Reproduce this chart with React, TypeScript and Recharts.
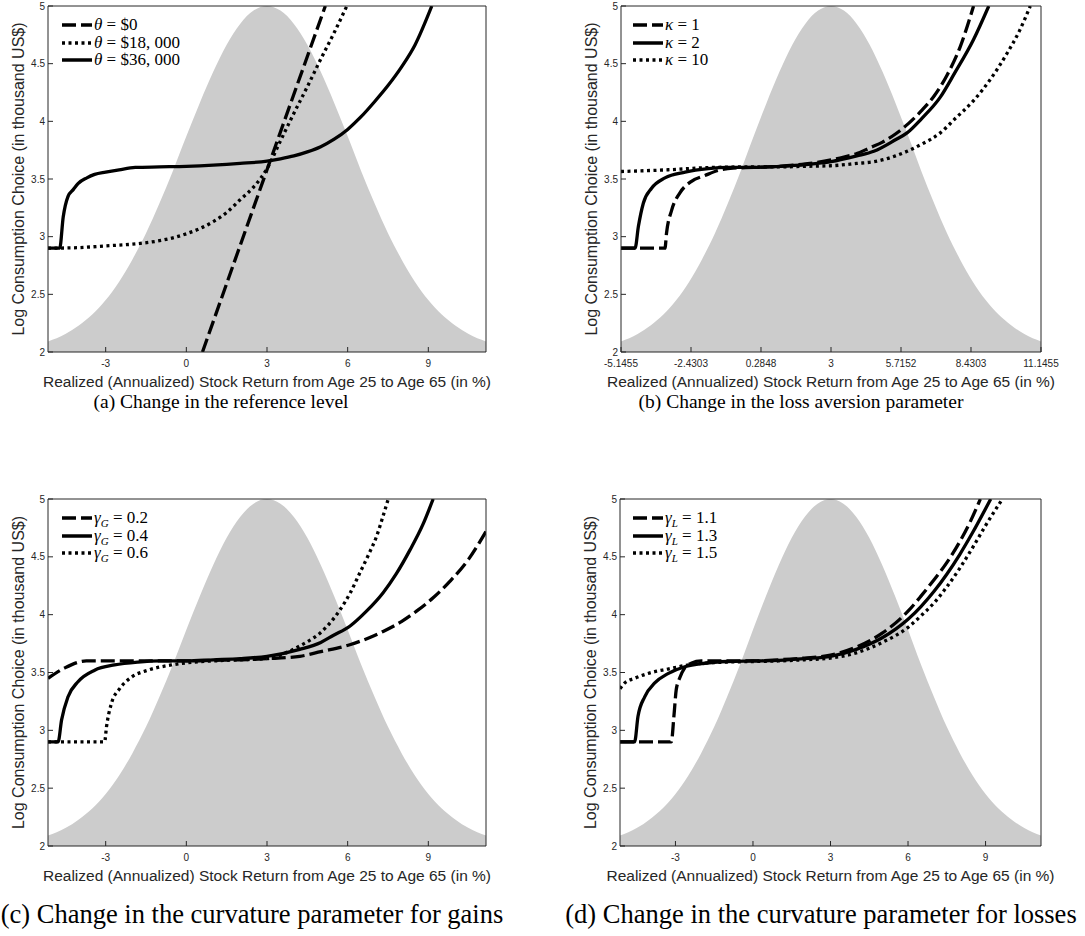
import React from 'react';
import { ComposedChart, Area, Line, XAxis, YAxis } from 'recharts';

// all four panels share the same return range (3 +/- 8.1455)
const X_MIN = -5.1455;
const X_MAX = 11.1455;

const intTicks = [-3, 0, 3, 6, 9];
const kappaTicks = [-5.1455, -2.4303, 0.2848, 3, 5.7152, 8.4303, 11.1455];
const yTicks = [2, 2.5, 3, 3.5, 4, 4.5, 5];

// grey return density, drawn on the consumption scale
const densX = [-5.1455, -4.5, -4, -3.5, -3, -2.5, -2, -1.5, -1, -0.5, 0, 0.5, 1, 1.5, 2, 2.5, 3, 3.5, 4, 4.5, 5, 5.5, 6, 6.5, 7, 7.5, 8, 8.5, 9, 9.5, 10, 10.5, 11.1455];
const densY = [2.09, 2.155, 2.23, 2.325, 2.45, 2.61, 2.805, 3.03, 3.29, 3.57, 3.87, 4.16, 4.43, 4.665, 4.845, 4.96, 5.0, 4.96, 4.845, 4.665, 4.43, 4.16, 3.87, 3.57, 3.29, 3.03, 2.805, 2.61, 2.45, 2.325, 2.23, 2.155, 2.09];

// (a) reference level
const refZeroX = [0.6, 3.0, 5.17];
const refZeroY = [2.0, 3.58, 5.0];
const ref18kX = [-5.1455, -4, -3, -2, -1, -0.5, 0, 0.5, 1, 1.5, 2, 2.5, 3, 3.5, 4, 4.5, 5, 5.5, 5.97];
const ref18kY = [2.9, 2.905, 2.92, 2.935, 2.965, 2.99, 3.025, 3.07, 3.13, 3.21, 3.32, 3.43, 3.59, 3.83, 4.07, 4.3, 4.54, 4.77, 5.0];
const ref36kX = [-5.1455, -4.71, -4.58, -4.4, -4.2, -4.03, -3.7, -3.41, -3.0, -2.5, -1.9, -1, 0, 1, 2, 3, 3.5, 4, 4.5, 5, 5.5, 6, 6.5, 7, 7.5, 8, 8.5, 9.13];
const ref36kY = [2.9, 2.9, 3.17, 3.35, 3.41, 3.46, 3.51, 3.54, 3.56, 3.58, 3.6, 3.605, 3.61, 3.62, 3.635, 3.655, 3.675, 3.7, 3.735, 3.78, 3.845, 3.93, 4.04, 4.17, 4.31, 4.47, 4.66, 5.0];

// (b) loss aversion
const kap1X = [-5.1455, -3.44, -3.38, -3.18, -2.86, -2.41, -1.89, -1.37, -0.8, 0, 1, 2, 3, 3.5, 4, 4.5, 5, 5.5, 6, 6.5, 7, 7.5, 8, 8.53];
const kap1Y = [2.9, 2.9, 3.03, 3.23, 3.38, 3.48, 3.53, 3.575, 3.595, 3.6, 3.61, 3.63, 3.665, 3.69, 3.72, 3.77, 3.82, 3.89, 3.98, 4.09, 4.22, 4.4, 4.64, 5.0];
const kap2X = [-5.1455, -4.6, -4.47, -4.28, -3.96, -3.44, -2.66, -1.76, -1, 0, 1, 2, 3, 4, 4.66, 5.5, 5.95, 6.5, 7.24, 7.8, 8.53, 9.12];
const kap2Y = [2.9, 2.9, 3.09, 3.29, 3.42, 3.51, 3.56, 3.59, 3.6, 3.6, 3.61, 3.625, 3.65, 3.7, 3.74, 3.84, 3.9, 4.02, 4.21, 4.42, 4.71, 5.0];
const kap10X = [-5.1455, -3.31, -1.63, 0, 1, 2, 3, 4, 4.66, 5.5, 5.95, 6.5, 7.24, 7.8, 8.53, 9.2, 9.83, 10.3, 10.73];
const kap10Y = [3.565, 3.58, 3.6, 3.605, 3.605, 3.61, 3.615, 3.635, 3.65, 3.7, 3.74, 3.8, 3.9, 4.02, 4.18, 4.37, 4.59, 4.78, 5.0];

// (c) curvature for gains
const gainG2X = [-5.1455, -4.52, -3.72, -3, -1, 0, 1, 2, 3, 4.22, 5, 6.08, 7, 7.32, 8, 8.56, 9.2, 9.81, 10.5, 11.1455];
const gainG2Y = [3.45, 3.54, 3.6, 3.6, 3.6, 3.6, 3.605, 3.61, 3.62, 3.64, 3.68, 3.74, 3.82, 3.855, 3.94, 4.03, 4.15, 4.29, 4.48, 4.72];
const gainG4X = [-5.1455, -4.77, -4.64, -4.4, -4.03, -3.41, -2.67, -1.8, -1, 0, 1, 2, 3, 4.22, 5, 5.46, 6.08, 6.7, 7.32, 7.8, 8.32, 8.8, 9.18];
const gainG4Y = [2.9, 2.9, 3.09, 3.29, 3.42, 3.52, 3.565, 3.59, 3.6, 3.6, 3.61, 3.62, 3.64, 3.7, 3.76, 3.82, 3.9, 4.03, 4.19, 4.35, 4.56, 4.78, 5.0];
const gainG6X = [-5.1455, -3.04, -2.97, -2.79, -2.48, -2.04, -1.43, -0.56, 0.3, 1, 2, 3, 3.6, 4.22, 4.6, 4.97, 5.35, 5.71, 6.1, 6.45, 6.8, 7.08, 7.3, 7.51];
const gainG6Y = [2.9, 2.9, 3.03, 3.23, 3.36, 3.46, 3.52, 3.565, 3.59, 3.6, 3.61, 3.62, 3.66, 3.73, 3.78, 3.84, 3.93, 4.04, 4.19, 4.36, 4.53, 4.68, 4.84, 5.0];

// (d) curvature for losses
const lossL11X = [-5.1455, -3.16, -3.06, -2.97, -2.84, -2.64, -2.39, -2.0, -1, 0, 1, 2, 3, 4, 5, 6, 6.5, 7, 7.5, 8, 8.4, 8.8];
const lossL11Y = [2.9, 2.9, 3.12, 3.35, 3.45, 3.54, 3.58, 3.6, 3.6, 3.6, 3.61, 3.625, 3.65, 3.72, 3.84, 4.03, 4.16, 4.3, 4.45, 4.63, 4.8, 5.0];
const lossL13X = [-5.1455, -4.58, -4.45, -4.19, -3.8, -3.29, -2.64, -1.87, -1, 0, 1, 2, 3, 4, 5, 6, 6.5, 7, 7.5, 8, 8.5, 9.2];
const lossL13Y = [2.9, 2.9, 3.12, 3.29, 3.41, 3.49, 3.55, 3.58, 3.595, 3.6, 3.605, 3.62, 3.64, 3.7, 3.8, 3.96, 4.07, 4.2, 4.35, 4.52, 4.71, 5.0];
const lossL15X = [-5.1455, -4.96, -4.58, -3.93, -3.29, -2.64, -1.9, -1, 0, 1, 2, 3, 4, 5, 6, 6.5, 7, 7.5, 8, 8.5, 9.0, 9.65];
const lossL15Y = [3.36, 3.41, 3.45, 3.5, 3.53, 3.56, 3.58, 3.59, 3.595, 3.6, 3.61, 3.625, 3.67, 3.76, 3.89, 3.99, 4.1, 4.24, 4.4, 4.58, 4.77, 5.0];

const SANS = '"Liberation Sans", Arial, Helvetica, sans-serif';
const SERIF = '"Liberation Serif", "Times New Roman", serif';
const AX = '#262626';
const DASH = '14 5';
const DOT = '3 3.5';

const pts = (xs: number[], ys: number[]) => xs.map((x, i) => ({ x, y: ys[i] }));
const densData = densX.map((x, i) => ({ x, d: densY[i] }));

type Series = { key: string; xs: number[]; ys: number[]; dash?: string; label: React.ReactNode };

const sub = (s: string) => (
  <sub style={{ fontSize: 11, fontStyle: 'italic', lineHeight: 0 }}>{s}</sub>
);

function LegendBox({ left, top, items }: { left: number; top: number; items: Series[] }) {
  return (
    <div style={{ position: 'absolute', left, top, fontFamily: SERIF, fontSize: 17, color: '#000' }}>
      {items.map((s) => (
        <div key={s.key} style={{ display: 'flex', alignItems: 'center', height: 17.7, whiteSpace: 'nowrap' }}>
          <svg width={30} height={6} style={{ display: 'block' }}>
            <line x1={0} y1={3} x2={30} y2={3} stroke="#000" strokeWidth={3.5} strokeDasharray={s.dash} />
          </svg>
          <span style={{ marginLeft: 2, lineHeight: '17.7px' }}>{s.label}</span>
        </div>
      ))}
    </div>
  );
}

type PanelProps = {
  left: number;
  top: number;
  width: number;
  height: number;
  yAxisW: number;
  rightM: number;
  xTicks: number[];
  series: Series[];
  legendLeft: number;
  caption: string;
  capCenter: number;
  capTop: number;
  capSize: number;
};

function Panel(p: PanelProps) {
  return (
    <>
      <div style={{ position: 'absolute', left: p.left, top: p.top }}>
        <ComposedChart width={p.width} height={p.height} data={densData} margin={{ top: 5, right: p.rightM - 1, bottom: 0, left: 0 }}>
          <Area dataKey="d" type="monotone" baseValue={2} fill="#cccccc" fillOpacity={1} stroke="none" isAnimationActive={false} />
          {p.series.map((s) => (
            <Line
              key={s.key}
              data={pts(s.xs, s.ys)}
              dataKey="y"
              type="monotone"
              stroke="#000"
              strokeWidth={3.3}
              strokeDasharray={s.dash}
              dot={false}
              activeDot={false}
              isAnimationActive={false}
            />
          ))}
          <XAxis
            dataKey="x"
            type="number"
            domain={[X_MIN, X_MAX]}
            allowDataOverflow
            ticks={p.xTicks}
            interval={0}
            height={48}
            tickSize={-5}
            tickMargin={12.5}
            stroke={AX}
            tick={{ fontSize: 10, fill: AX, fontFamily: SANS }}
            label={{
              value: 'Realized (Annualized) Stock Return from Age 25 to Age 65 (in %)',
              position: 'insideTop',
              offset: 23.5,
              fill: AX,
              fontSize: 15.5,
              fontFamily: SANS,
            }}
          />
          <XAxis xAxisId="top" orientation="top" type="number" domain={[X_MIN, X_MAX]} allowDataOverflow ticks={p.xTicks} interval={0} height={1} tickSize={-5} tick={false} stroke={AX} />
          <YAxis
            type="number"
            domain={[2, 5]}
            allowDataOverflow
            ticks={yTicks}
            interval={0}
            width={p.yAxisW}
            tickSize={-5}
            tickMargin={8}
            stroke={AX}
            tick={{ fontSize: 10, fill: AX, fontFamily: SANS }}
            label={{
              value: 'Log Consumption Choice (in thousand US$)',
              angle: -90,
              position: 'insideLeft',
              offset: p.yAxisW - 29.5,
              fill: AX,
              fontSize: 16,
              fontFamily: SANS,
              style: { textAnchor: 'middle' },
            }}
          />
          <YAxis yAxisId="right" orientation="right" type="number" domain={[2, 5]} allowDataOverflow ticks={yTicks} interval={0} width={1} tickSize={-5} tick={false} stroke={AX} />
        </ComposedChart>
      </div>
      <LegendBox left={p.legendLeft} top={p.top + 16} items={p.series} />
      <div
        style={{
          position: 'absolute',
          left: p.capCenter - 320,
          top: p.capTop,
          width: 640,
          textAlign: 'center',
          fontFamily: SERIF,
          fontSize: p.capSize,
          lineHeight: `${p.capSize}px`,
          whiteSpace: 'nowrap',
          color: '#000',
        }}
      >
        {p.caption}
      </div>
    </>
  );
}

export default function App() {
  const panelA: Series[] = [
    { key: 'a0', xs: refZeroX, ys: refZeroY, dash: DASH, label: <><i>θ</i> = $0</> },
    { key: 'a18', xs: ref18kX, ys: ref18kY, dash: DOT, label: <><i>θ</i> = $18, 000</> },
    { key: 'a36', xs: ref36kX, ys: ref36kY, label: <><i>θ</i> = $36, 000</> },
  ];
  const panelB: Series[] = [
    { key: 'k1', xs: kap1X, ys: kap1Y, dash: DASH, label: <><i>κ</i> = 1</> },
    { key: 'k2', xs: kap2X, ys: kap2Y, label: <><i>κ</i> = 2</> },
    { key: 'k10', xs: kap10X, ys: kap10Y, dash: DOT, label: <><i>κ</i> = 10</> },
  ];
  const panelC: Series[] = [
    { key: 'g2', xs: gainG2X, ys: gainG2Y, dash: DASH, label: <><i>γ</i>{sub('G')} = 0.2</> },
    { key: 'g4', xs: gainG4X, ys: gainG4Y, label: <><i>γ</i>{sub('G')} = 0.4</> },
    { key: 'g6', xs: gainG6X, ys: gainG6Y, dash: DOT, label: <><i>γ</i>{sub('G')} = 0.6</> },
  ];
  const panelD: Series[] = [
    { key: 'l11', xs: lossL11X, ys: lossL11Y, dash: DASH, label: <><i>γ</i>{sub('L')} = 1.1</> },
    { key: 'l13', xs: lossL13X, ys: lossL13Y, label: <><i>γ</i>{sub('L')} = 1.3</> },
    { key: 'l15', xs: lossL15X, ys: lossL15Y, dash: DOT, label: <><i>γ</i>{sub('L')} = 1.5</> },
  ];

  return (
    <div style={{ position: 'fixed', left: 0, top: 0, width: 1085, height: 936, background: '#fff', overflow: 'hidden' }}>
      <Panel left={0} top={0} width={500} height={400} yAxisW={48} rightM={14} xTicks={intTicks} series={panelA}
        legendLeft={62} caption="(a) Change in the reference level" capCenter={221} capTop={392} capSize={19.5} />
      <Panel left={540} top={0} width={545} height={400} yAxisW={81} rightM={44} xTicks={kappaTicks} series={panelB}
        legendLeft={633} caption="(b) Change in the loss aversion parameter" capCenter={801} capTop={392} capSize={19.5} />
      <Panel left={0} top={493} width={500} height={401} yAxisW={48} rightM={14} xTicks={intTicks} series={panelC}
        legendLeft={62} caption="(c) Change in the curvature parameter for gains" capCenter={252} capTop={901} capSize={26.5} />
      <Panel left={540} top={493} width={545} height={401} yAxisW={80} rightM={44} xTicks={intTicks} series={panelD}
        legendLeft={633} caption="(d) Change in the curvature parameter for losses" capCenter={821} capTop={901} capSize={26.5} />
    </div>
  );
}
